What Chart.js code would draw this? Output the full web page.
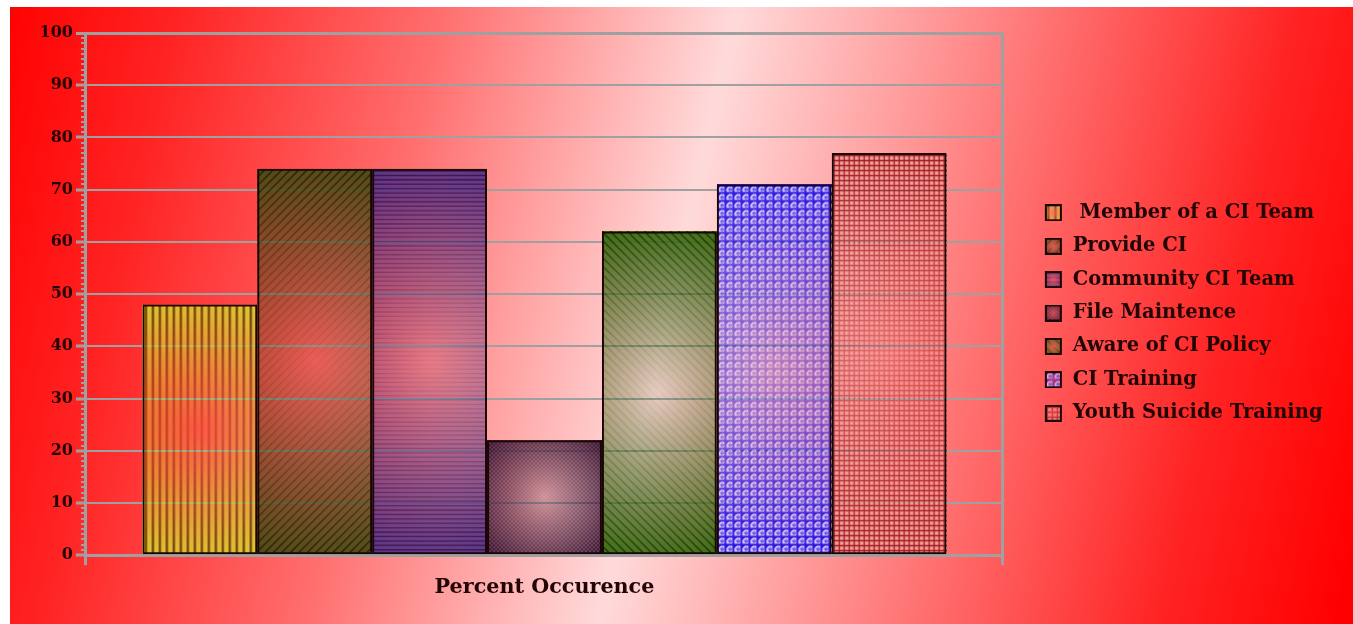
<!DOCTYPE html>
<html>
<head>
<meta charset="utf-8">
<title>Percent Occurence</title>
<script src="https://cdn.jsdelivr.net/npm/chart.js@4.4.1/dist/chart.umd.min.js"></script>
<style>
  html, body { margin: 0; padding: 0; background: #ffffff; overflow: hidden; }
  #wrap { position: absolute; left: 10px; top: 7px; width: 1343px; height: 617px; }
</style>
</head>
<body>
<div id="wrap"><canvas id="chart"></canvas></div>
<script>
// ---- data ----
const categories = [''];
const seriesNames = [
  ' Member of a CI Team',
  'Provide CI',
  'Community CI Team',
  'File Maintence',
  'Aware of CI Policy',
  'CI Training',
  'Youth Suicide Training'
];
const seriesValues = [48, 74, 74, 22, 62, 71, 77];
const yMin = 0;
const yMax = 100;
const yMajorStep = 10;
const yMinorStep = 1;
const axisTitle = 'Percent Occurence';

// ---- look of each series: base colour, hatch, and how see-through the centre is ----
const barLooks = [
  { base: '#dcc832', line: '#5a3c00', kind: 'vlines', step: 7,   lw: 2.2, core: 0.15 },
  { base: '#4e4c16', line: '#161600', kind: 'fwd',    step: 8.5, lw: 1.2, core: 0.12 },
  { base: '#5e3488', line: '#2a0e46', kind: 'hlines', step: 4.4, lw: 1.3, core: 0.15 },
  { base: '#5a2e50', line: '#2a0c22', kind: 'cross',  step: 4,   lw: 0.9, core: 0.25 },
  { base: '#3e6c12', line: '#103000', kind: 'back',   step: 8.5, lw: 1.4, core: 0.12 },
  { base: '#d6ccff', line: '#2410e0', kind: 'tiles',  step: 8,   lw: 2,   core: 0.35 },
  { base: '#f4a0a0', line: '#9a1414', kind: 'grid',   step: 5,   lw: 1.3, core: 0.3 }
];

const SERIF = '"DejaVu Serif", "Liberation Serif", serif';
const TEXT = '#220606';
const AXIS_GRAY = '#a0a0a0';

function paintHatch(g, look, w, h) {
  g.fillStyle = look.base;
  g.fillRect(0, 0, w, h);
  const s = look.step;
  g.strokeStyle = look.line;
  g.lineWidth = look.lw;
  if (look.kind === 'tiles') {
    g.beginPath();
    for (let x = 0.5; x < w; x += s) { g.moveTo(x, 0); g.lineTo(x, h); }
    for (let y = 0.5; y < h; y += s) { g.moveTo(0, y); g.lineTo(w, y); }
    g.stroke();
    g.fillStyle = look.line;
    g.lineWidth = 1;
    for (let y = 0; y < h; y += s) {
      for (let x = 0; x < w; x += s) {
        g.beginPath();
        g.moveTo(x + 1, y + 1); g.lineTo(x + 4.5, y + 1); g.lineTo(x + 1, y + 4.5);
        g.closePath(); g.fill();
        g.beginPath();
        g.arc(x + 5.2, y + 5, 1.2, 0, Math.PI * 2);
        g.stroke();
      }
    }
    return;
  }
  g.beginPath();
  const vl = () => { for (let x = s / 2; x < w; x += s) { g.moveTo(x, 0); g.lineTo(x, h); } };
  const hl = () => { for (let y = s / 2; y < h; y += s) { g.moveTo(0, y); g.lineTo(w, y); } };
  const fw = () => { for (let k = -h; k < w + h; k += s) { g.moveTo(k, h); g.lineTo(k + h, 0); } };
  const bk = () => { for (let k = -h; k < w + h; k += s) { g.moveTo(k, 0); g.lineTo(k + h, h); } };
  if (look.kind === 'vlines') vl();
  if (look.kind === 'hlines') hl();
  if (look.kind === 'fwd') fw();
  if (look.kind === 'back') bk();
  if (look.kind === 'cross') { fw(); bk(); }
  if (look.kind === 'grid') { vl(); hl(); }
  g.stroke();
}

// hatch faded towards a translucent centre
function makeFill(look, w, h) {
  const c = document.createElement('canvas');
  c.width = Math.max(1, Math.round(w));
  c.height = Math.max(1, Math.round(h));
  const g = c.getContext('2d');
  paintHatch(g, look, c.width, c.height);
  g.globalCompositeOperation = 'destination-in';
  const r = Math.hypot(c.width, c.height) / 2;
  const rg = g.createRadialGradient(c.width / 2, c.height / 2, 0, c.width / 2, c.height / 2, r);
  rg.addColorStop(0, 'rgba(0,0,0,' + look.core + ')');
  rg.addColorStop(1, 'rgba(0,0,0,1)');
  g.fillStyle = rg;
  g.fillRect(0, 0, c.width, c.height);
  return c;
}

// legend swatch; the transparent strip on its left keeps the list clear of the plot frame
const ICON_W = 46, ICON_SQ = 17, ICON_OFF = 28;
function makeLegendIcon(look) {
  const c = document.createElement('canvas');
  c.width = ICON_W; c.height = ICON_SQ;
  const g = c.getContext('2d');
  g.drawImage(makeFill(look, ICON_SQ, ICON_SQ), ICON_OFF, 0);
  g.strokeStyle = '#1a0505';
  g.lineWidth = 2;
  g.strokeRect(ICON_OFF + 1, 1, ICON_SQ - 2, ICON_SQ - 2);
  return c;
}
const legendIcons = barLooks.map(makeLegendIcon);

// page background: red with a pale diagonal band
const backdrop = {
  id: 'backdrop',
  beforeDraw(chart) {
    const { ctx, width, height } = chart;
    const cx = 660, cy = 300, L = 720;
    const dx = 0.976, dy = 0.219;
    const grad = ctx.createLinearGradient(cx - L * dx, cy - L * dy, cx + L * dx, cy + L * dy);
    grad.addColorStop(0.00, 'rgb(255,0,0)');
    grad.addColorStop(0.12, 'rgb(255,35,35)');
    grad.addColorStop(0.30, 'rgb(255,110,110)');
    grad.addColorStop(0.50, 'rgb(255,218,218)');
    grad.addColorStop(0.70, 'rgb(255,120,120)');
    grad.addColorStop(0.88, 'rgb(255,35,35)');
    grad.addColorStop(1.00, 'rgb(255,0,0)');
    ctx.save();
    ctx.fillStyle = grad;
    ctx.fillRect(0, 0, width, height);
    ctx.restore();
  }
};

// hatched, centre-faded fill painted inside each bar element
const barFill = {
  id: 'barFill',
  beforeDatasetDraw(chart, args) {
    const { ctx } = chart;
    const look = barLooks[args.index];
    args.meta.data.forEach(el => {
      const p = el.getProps(['x', 'y', 'base', 'width'], true);
      const left = p.x - p.width / 2;
      const top = Math.min(p.y, p.base);
      const h = Math.abs(p.base - p.y);
      if (h < 1) return;
      ctx.drawImage(makeFill(look, p.width, h), left, top, p.width, h);
    });
  }
};

// small minor tick marks on the value axis, one per unit
const minorTicks = {
  id: 'minorTicks',
  afterDraw(chart) {
    const { ctx, chartArea } = chart;
    const y = chart.scales.y;
    ctx.save();
    ctx.strokeStyle = AXIS_GRAY;
    ctx.lineWidth = 2;
    ctx.beginPath();
    for (let v = yMin; v <= yMax; v += yMinorStep) {
      const py = Math.round(y.getPixelForValue(v));
      ctx.moveTo(chartArea.left - 5, py);
      ctx.lineTo(chartArea.left, py);
    }
    ctx.stroke();
    ctx.restore();
  }
};

const datasets = seriesNames.map((name, i) => ({
  label: name,
  data: [seriesValues[i]],
  backgroundColor: 'rgba(0,0,0,0)',
  borderColor: '#1a0505',
  borderWidth: 2,
  borderSkipped: false
}));

new Chart(document.getElementById('chart'), {
  type: 'bar',
  data: { labels: categories, datasets },
  plugins: [backdrop, barFill, minorTicks],
  options: {
    responsive: true,
    maintainAspectRatio: false,
    animation: false,
    events: [],
    barPercentage: 1,
    categoryPercentage: 0.877,
    layout: { padding: { top: 16, left: 26.6, right: 27.9, bottom: 21 } },
    plugins: {
      tooltip: { enabled: false },
      title: {
        display: true,
        text: '',
        font: { size: 5 },
        padding: { top: 0, bottom: 4 }
      },
      legend: {
        position: 'right',
        align: 'center',
        labels: {
          usePointStyle: true,
          pointStyleWidth: ICON_W,
          font: { family: SERIF, size: 19.5, weight: 'bold' },
          color: TEXT,
          padding: 13.9,
          generateLabels(chart) {
            return chart.data.datasets.map((ds, i) => ({
              text: ds.label,
              pointStyle: legendIcons[i],
              fillStyle: 'rgba(0,0,0,0)',
              strokeStyle: 'rgba(0,0,0,0)',
              lineWidth: 0,
              fontColor: TEXT,
              hidden: false,
              datasetIndex: i
            }));
          }
        }
      }
    },
    scales: {
      x: {
        type: 'category',
        offset: true,
        grid: {
          display: true,
          offset: true,
          drawOnChartArea: true,
          drawTicks: true,
          tickLength: 10,
          color: AXIS_GRAY,
          lineWidth: 3
        },
        border: { display: true, color: AXIS_GRAY, width: 3 },
        ticks: { display: false },
        title: {
          display: true,
          text: axisTitle,
          color: TEXT,
          font: { family: SERIF, size: 20.7, weight: 'bold' },
          padding: { top: 10, bottom: 3 }
        }
      },
      y: {
        position: 'left',
        min: yMin,
        max: yMax,
        ticks: {
          stepSize: yMajorStep,
          autoSkip: false,
          padding: 3,
          color: TEXT,
          font: { family: SERIF, size: 16, weight: 'bold' }
        },
        grid: {
          display: true,
          drawOnChartArea: true,
          tickLength: 10,
          tickColor: AXIS_GRAY,
          tickWidth: 3,
          color: AXIS_GRAY,
          lineWidth: (c) => (c.tick && c.tick.value === yMax ? 3 : 2)
        },
        border: { display: true, color: AXIS_GRAY, width: 3 }
      }
    }
  }
});
</script>
</body>
</html>
